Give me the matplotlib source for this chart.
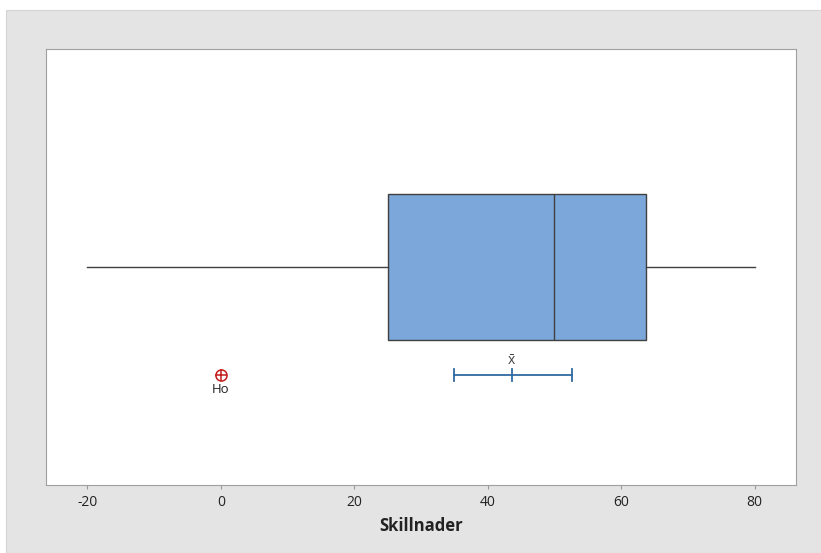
import matplotlib
matplotlib.use("Agg")
import matplotlib.pyplot as plt
from matplotlib.patches import Rectangle

# boxplot summary
whislo = -20
q1 = 25
median = 50
q3 = 63.7
whishi = 80

# mean and its confidence interval, null hypothesis value
mean = 43.6
ci_low = 34.9
ci_high = 52.6
h0 = 0

xticks = [-20, 0, 20, 40, 60, 80]

plt.rcParams["font.family"] = ["Open Sans", "DejaVu Sans"]
plt.rcParams["mathtext.fontset"] = "custom"
plt.rcParams["mathtext.rm"] = "Open Sans"

fig = plt.figure(figsize=(8.21, 5.53), dpi=100)
fig.patch.set_facecolor("white")
fig.patches.append(Rectangle((6 / 821, 0), 1, 1 - 10 / 553, transform=fig.transFigure,
                             facecolor="#e4e4e4", edgecolor="#d4d4d4", lw=0.8, zorder=-10))

ax = fig.add_axes([46 / 821, 1 - 485 / 553, 750 / 821, 436 / 553])
ax.set_facecolor("white")

stats = [dict(whislo=whislo, q1=q1, med=median, q3=q3, whishi=whishi, fliers=[])]
ax.bxp(stats, positions=[0.5], widths=0.333, vert=False, patch_artist=True,
       showcaps=False,
       boxprops=dict(facecolor="#7ba7da", edgecolor="#404040", lw=1.0),
       medianprops=dict(color="#404040", lw=1.0),
       whiskerprops=dict(color="#404040", lw=1.0))

# mean confidence interval
y_ci = 0.252
ax.plot([ci_low, ci_high], [y_ci, y_ci], color="#2f6aa0", lw=1.3)
for xv in [ci_low, mean, ci_high]:
    ax.plot([xv, xv], [y_ci - 0.014, y_ci + 0.014], color="#2f6aa0", lw=1.3)
ax.text(mean, y_ci + 0.014, r"$\bar{\mathrm{x}}$", ha="center", va="bottom",
        fontsize=10, color="#444444")

# H0 marker
ax.plot([h0], [y_ci], marker="o", ms=8, mfc="none", mec="#c41a1a", mew=1.1)
ax.plot([h0], [y_ci], marker="+", ms=8, mec="#c41a1a", mew=1.1)
ax.text(h0, y_ci - 0.018, "Ho", ha="center", va="top", fontsize=9.5, color="#222222")

ax.set_xlim(-26.2, 86.2)
ax.set_ylim(0, 1)
ax.set_yticks([])
ax.set_xticks(xticks)
ax.set_xticklabels([str(v) for v in xticks], fontsize=10)
ax.tick_params(axis="x", length=3, color="#999999", colors="#222222", pad=4)
for s in ax.spines.values():
    s.set_color("#a0a0a0")
ax.set_xlabel("Skillnader", fontsize=12, fontweight="bold", color="#222222", labelpad=5)

fig.savefig("out.png", dpi=100)
